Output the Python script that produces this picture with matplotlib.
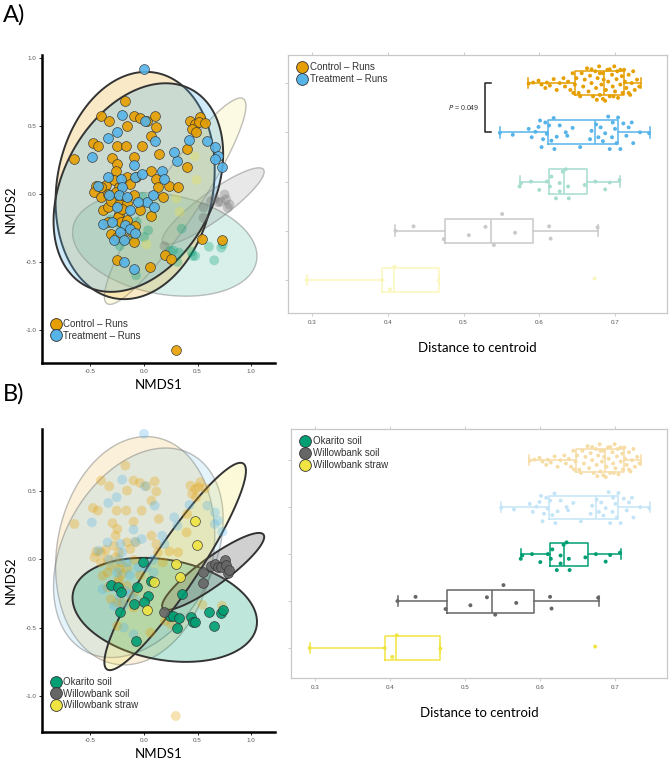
import numpy as np
import matplotlib
matplotlib.use("Agg")
from matplotlib import pyplot as plt
from matplotlib.lines import Line2D
from matplotlib.colors import to_rgba, to_rgb

## group names and colours

groups = ["Control - Runs", "Treatment - Runs", "Okarito soil", "Willowbank soil", "Willowbank straw"]
legend_labels = ["Control \u2013 Runs", "Treatment \u2013 Runs", "Okarito soil", "Willowbank soil", "Willowbank straw"]
colours = ["#E69F00", "#56B4E9", "#009E73", "#666666", "#F0E442"]

## NMDS scores

ctrl_x = [-0.173, -0.400, -0.324, -0.097, -0.036, 0.024, 0.100, 0.115, -0.158, -0.476,
          -0.430, -0.255, -0.164, -0.021, 0.070, 0.139, -0.648, -0.097, -0.294, -0.248,
          -0.264, -0.158, -0.076, 0.070, 0.115, -0.445, -0.355, -0.279, -0.233, -0.461,
          -0.400, -0.339, -0.264, -0.218, -0.091, 0.130, 0.176, 0.236, 0.318, -0.385,
          -0.339, -0.309, -0.233, -0.158, -0.036, -0.233, -0.242, -0.218, -0.158, 0.070,
          -0.339, -0.309, -0.248, -0.203, -0.097, -0.082, -0.112, 0.433, 0.479, 0.524,
          0.509, 0.448, 0.485, 0.570, 0.403, 0.397, 0.545, 0.727, -0.248, 0.061,
          0.197, 0.252, 0.297, -0.400, -0.203, -0.127]
ctrl_y = [0.683, 0.573, 0.532, 0.573, 0.556, 0.532, 0.568, 0.493, 0.500, 0.373,
          0.354, 0.354, 0.354, 0.354, 0.427, 0.293, 0.256, 0.273, 0.263, 0.220,
          0.171, 0.122, 0.122, 0.171, 0.110, 0.054, 0.068, 0.098, 0.049, 0.012,
          -0.024, 0.000, 0.012, -0.024, -0.007, 0.049, -0.024, 0.056, 0.049, -0.122,
          -0.098, -0.049, -0.073, -0.066, -0.117, -0.146, -0.171, -0.207, -0.195, -0.163,
          -0.207, -0.293, -0.317, -0.317, -0.354, -0.237, -0.280, 0.537, 0.512, 0.561,
          0.524, 0.476, 0.451, 0.517, 0.329, 0.195, -0.334, -0.341, -0.488, -0.537,
          -0.451, -0.476, -1.146, 0.049, -0.110, 0.073]

trt_x = [0.000, -0.203, 0.009, -0.255, -0.333, 0.100, -0.485, -0.097, 0.424, 0.591,
         0.661, 0.691, 0.661, 0.730, 0.312, -0.339, -0.218, -0.082, -0.021, 0.170,
         0.191, -0.424, -0.203, -0.324, -0.233, 0.024, 0.085, -0.133, -0.052, 0.091,
         -0.158, -0.248, -0.385, -0.294, -0.173, -0.127, -0.227, -0.082, -0.188, -0.188,
         -0.097, 0.282, -0.279]
trt_y = [0.915, 0.580, 0.532, 0.451, 0.410, 0.390, 0.268, 0.215, 0.395, 0.390,
         0.341, 0.280, 0.256, 0.200, 0.244, 0.122, 0.110, 0.127, 0.146, 0.171,
         0.110, 0.061, 0.049, -0.005, -0.005, -0.061, -0.005, -0.117, -0.061, -0.098,
         -0.024, -0.098, -0.220, -0.207, -0.232, -0.256, -0.280, -0.288, -0.337, -0.500,
         -0.549, 0.305, -0.341]

oka_x = [-0.012, -0.309, -0.242, -0.212, -0.067, 0.070, 0.039, 0.000, -0.097, -0.224,
         -0.073, 0.352, 0.242, 0.273, 0.327, 0.312, 0.442, 0.455, 0.479, 0.606,
         0.721, 0.736, 0.655]
oka_y = [-0.022, -0.188, -0.205, -0.237, -0.205, -0.163, -0.268, -0.317, -0.329, -0.383,
         -0.598, -0.256, -0.415, -0.415, -0.432, -0.500, -0.424, -0.456, -0.456, -0.388,
         -0.395, -0.371, -0.488]

wbs_x = [0.191, 0.555, 0.555, 0.624, 0.661, 0.691, 0.715, 0.752, 0.767, 0.782, 0.797]
wbs_y = [-0.383, -0.098, -0.176, -0.054, -0.034, -0.061, -0.059, -0.005, -0.041, -0.102, -0.078]

wbst_x = [0.473, 0.491, 0.303, 0.333, 0.091, 0.024]
wbst_y = [0.276, 0.102, -0.034, -0.132, -0.171, -0.371]

nmds_x = [ctrl_x, trt_x, oka_x, wbs_x, wbst_x]
nmds_y = [ctrl_y, trt_y, oka_y, wbs_y, wbst_y]

## 95% ellipses (centre + two conjugate semi-axes)

ell_cx = [-0.082, -0.052, 0.194, 0.645, 0.291]
ell_cy = [0.061, 0.046, -0.371, -0.090, -0.054]
ell_ux = [0.200, 0.511, 0.856, 0.470, 0.636]
ell_uy = [0.826, 0.712, -0.121, 0.268, 0.751]
ell_vx = [0.714, 0.603, 0.079, 0.074, 0.175]
ell_vy = [-0.112, -0.280, 0.360, -0.084, -0.096]

## distance to centroid

ctrl_dist = [0.586, 0.592, 0.599, 0.603, 0.608, 0.610, 0.614, 0.619, 0.623, 0.627,
             0.632, 0.634, 0.638, 0.641, 0.644, 0.647, 0.649, 0.652, 0.656, 0.658,
             0.660, 0.663, 0.665, 0.667, 0.669, 0.671, 0.674, 0.675, 0.677, 0.679,
             0.680, 0.682, 0.684, 0.685, 0.687, 0.688, 0.690, 0.691, 0.693, 0.696,
             0.697, 0.699, 0.700, 0.702, 0.703, 0.704, 0.707, 0.709, 0.710, 0.712,
             0.713, 0.715, 0.718, 0.720, 0.722, 0.724, 0.726, 0.729, 0.732, 0.676,
             0.684, 0.669, 0.654, 0.645, 0.693, 0.707, 0.718, 0.680, 0.698]
ctrl_jit = [-0.01, 0.01, 0.05, -0.03, -0.10, 0.01, -0.05, 0.08, -0.14, 0.00,
            0.10, -0.07, 0.03, -0.14, 0.20, -0.03, 0.10, -0.20, 0.20, -0.07,
            0.07, 0.30, -0.17, 0.15, 0.00, -0.27, 0.24, -0.10, 0.10, 0.34,
            -0.24, -0.03, 0.20, 0.07, -0.36, -0.14, 0.27, 0.03, -0.27, 0.17,
            -0.07, 0.34, -0.17, 0.08, 0.24, -0.30, -0.03, 0.14, -0.20, 0.27,
            0.03, -0.10, 0.17, -0.24, 0.00, 0.24, -0.14, 0.07, -0.07, -0.34,
            -0.32, 0.28, -0.27, -0.20, 0.28, 0.27, -0.20, 0.20, -0.27]

trt_dist = [0.548, 0.565, 0.586, 0.590, 0.595, 0.599, 0.601, 0.603, 0.605, 0.608,
            0.610, 0.613, 0.616, 0.619, 0.620, 0.623, 0.627, 0.635, 0.637, 0.644,
            0.654, 0.667, 0.669, 0.675, 0.678, 0.681, 0.684, 0.687, 0.691, 0.693,
            0.696, 0.697, 0.700, 0.702, 0.704, 0.707, 0.711, 0.715, 0.718, 0.722,
            0.724, 0.733, 0.745]
trt_jit = [-0.01, -0.05, 0.07, -0.10, 0.01, 0.11, 0.24, -0.30, -0.14, 0.20,
           -0.03, 0.14, -0.17, 0.29, -0.34, -0.09, 0.14, 0.00, -0.07, 0.09,
           -0.30, -0.14, 0.03, 0.16, -0.10, 0.10, -0.18, -0.02, 0.32, -0.34,
           -0.10, 0.20, 0.07, -0.22, 0.30, -0.34, 0.18, -0.07, 0.10, 0.20,
           -0.22, 0.00, -0.02]

oka_dist = [0.574, 0.576, 0.589, 0.600, 0.610, 0.614, 0.616, 0.622, 0.627, 0.627,
            0.631, 0.635, 0.638, 0.639, 0.660, 0.674, 0.687, 0.693, 0.706]
oka_jit = [-0.10, -0.03, 0.00, -0.17, 0.00, -0.10, 0.10, -0.34, -0.03, -0.20,
           0.20, 0.25, -0.10, -0.34, -0.07, 0.00, -0.16, -0.02, 0.03]

wbs_dist = [0.410, 0.434, 0.474, 0.507, 0.529, 0.540, 0.551, 0.568, 0.613, 0.615, 0.677]
wbs_jit = [0.00, 0.09, -0.17, -0.09, 0.08, -0.29, 0.34, -0.04, 0.09, -0.16, 0.07]

wbst_dist = [0.293, 0.393, 0.409, 0.403, 0.467, 0.673]
wbst_jit = [0.00, 0.00, 0.27, -0.19, -0.01, 0.03]

dists = [ctrl_dist, trt_dist, oka_dist, wbs_dist, wbst_dist]
jits = [ctrl_jit, trt_jit, oka_jit, wbs_jit, wbst_jit]

# box summaries: whisker low, q1, median, q3, whisker high
box_lo = [0.585, 0.548, 0.574, 0.410, 0.293]
box_q1 = [0.647, 0.612, 0.613, 0.476, 0.393]
box_med = [0.686, 0.674, 0.632, 0.536, 0.408]
box_q3 = [0.712, 0.704, 0.663, 0.592, 0.467]
box_hi = [0.734, 0.746, 0.707, 0.678, 0.467]

box_pos = [4, 3, 2, 1, 0]
p_text = "= 0.049"

plt.rcParams['font.family'] = ['Liberation Sans', 'DejaVu Sans']


def faded(c, a):
    r, g, b = to_rgb(c)
    return (1 - a + a * r, 1 - a + a * g, 1 - a + a * b)


def draw_ellipse(ax, i, fill_alpha, edge, lw):
    t = np.linspace(0, 2 * np.pi, 300)
    ex = ell_cx[i] + ell_ux[i] * np.cos(t) + ell_vx[i] * np.sin(t)
    ey = ell_cy[i] + ell_uy[i] * np.cos(t) + ell_vy[i] * np.sin(t)
    ax.fill(ex, ey, facecolor=to_rgba(colours[i], fill_alpha), edgecolor=edge, linewidth=lw)


def nmds_panel(ax, hi, ylim, yticks):
    lo = [i for i in range(5) if i not in hi]
    for i in lo:
        draw_ellipse(ax, i, 0.15, (0.45, 0.45, 0.45, 0.45), 1.0)
    for i in hi:
        alpha = {0: 0.22, 1: 0.28, 2: 0.25, 3: 0.3, 4: 0.2}[i]
        draw_ellipse(ax, i, alpha, "#333333", 1.4)
    for i in lo:
        ax.scatter(nmds_x[i], nmds_y[i], s=50, color=colours[i], alpha=0.3, edgecolor='none', zorder=3)
    for i in hi:
        ax.scatter(nmds_x[i], nmds_y[i], s=50, color=colours[i], alpha=0.9,
                   edgecolor="#333333", linewidth=0.5, zorder=4)
    ax.set_xlim(-0.95, 1.22)
    ax.set_ylim(*ylim)
    ax.set_xticks([-0.5, 0.0, 0.5, 1.0])
    ax.set_xticklabels(["-0.5", "0.0", "0.5", "1.0"])
    ax.set_yticks(yticks)
    ax.set_yticklabels(["%.1f" % v for v in yticks])
    for s in ["top", "right"]:
        ax.spines[s].set_visible(False)
    for s in ["left", "bottom"]:
        ax.spines[s].set_linewidth(1.8)
    ax.tick_params(length=2, width=0.6, labelsize=4.5, labelcolor="#555555", pad=2)
    ax.set_xlabel("NMDS1", fontsize=9.5, family="Lato", labelpad=4)
    ax.set_ylabel("NMDS2", fontsize=9.5, family="Lato", labelpad=6)
    handles = [Line2D([], [], marker='o', linestyle='none', markersize=8.5,
                      markerfacecolor=colours[i], markeredgecolor="#333333", markeredgewidth=0.6)
               for i in hi]
    ax.legend(handles, [legend_labels[i] for i in hi], loc="lower left", bbox_to_anchor=(0.0, 0.05),
              frameon=False, fontsize=7, handletextpad=0.1, labelspacing=0.15,
              borderaxespad=0.3, handlelength=1.4, labelcolor="#333333")


def box_panel(ax, hi, ylim, pval):
    for i in range(5):
        c = colours[i] if i in hi else faded(colours[i], 0.35)
        st = dict(whislo=box_lo[i], q1=box_q1[i], med=box_med[i], q3=box_q3[i],
                  whishi=box_hi[i], fliers=[])
        lp = dict(color=c, linewidth=1.1)
        ax.bxp([st], positions=[box_pos[i]], widths=0.49, orientation='horizontal',
               showfliers=False, boxprops=lp, medianprops=lp, whiskerprops=lp,
               capprops=lp, capwidths=0.22, manage_ticks=False)
        ax.scatter(dists[i], np.array(jits[i]) + box_pos[i], s=8, color=c,
                   edgecolor='none', zorder=3)
    ax.set_xlim(0.2683, 0.7686)
    ax.set_ylim(*ylim)
    ax.set_xticks([0.3, 0.4, 0.5, 0.6, 0.7])
    ax.set_xticklabels(["0.3", "0.4", "0.5", "0.6", "0.7"])
    ax.set_yticks(box_pos)
    ax.set_yticklabels([])
    ax.tick_params(axis='x', length=2, width=0.5, labelsize=4.5, labelcolor="#555555",
                   color="#bbbbbb", pad=3, top=True, direction='out')
    ax.tick_params(axis='y', length=2, width=0.5, color="#bbbbbb")
    for s in ax.spines.values():
        s.set_color("#c8c8c8")
        s.set_linewidth(0.9)
    ax.set_xlabel("Distance to centroid", fontsize=9.5, family="Lato", labelpad=12)
    if pval:
        bx = 0.529
        ax.plot([bx + 0.007, bx, bx, bx + 0.007], [box_pos[0], box_pos[0], box_pos[1], box_pos[1]],
                color="#222222", lw=1.1)
        ax.text(bx - 0.008, (box_pos[0] + box_pos[1]) / 2, r"$\it{P}$ " + p_text,
                fontsize=5, ha="right", va="center", color="#333333")
    handles = [Line2D([], [], marker='o', linestyle='none', markersize=8.5,
                      markerfacecolor=colours[i], markeredgecolor="#333333", markeredgewidth=0.6)
               for i in hi]
    ax.legend(handles, [legend_labels[i] for i in hi], loc="upper left",
              frameon=False, fontsize=7, handletextpad=0.1, labelspacing=0.2,
              borderaxespad=0.35, handlelength=1.4, labelcolor="#333333")


fig = plt.figure(figsize=(6.69, 7.61), dpi=100)

axA1 = fig.add_axes([0.0628, 0.523, 0.348, 0.405])
axA2 = fig.add_axes([0.4305, 0.5887, 0.5665, 0.339])
axB1 = fig.add_axes([0.0628, 0.0381, 0.348, 0.398])
axB2 = fig.add_axes([0.435, 0.109, 0.562, 0.327])

nmds_panel(axA1, [0, 1], (-1.241, 1.02), [-1.0, -0.5, 0.0, 0.5, 1.0])
nmds_panel(axB1, [2, 3, 4], (-1.263, 0.949), [-1.0, -0.5, 0.0, 0.5])
box_panel(axA2, [0, 1], (-0.67, 4.57), True)
box_panel(axB2, [2, 3, 4], (-0.64, 4.66), False)

fig.text(0.004, 0.995, "A)", fontsize=17, family="Lato", va="top", ha="left")
fig.text(0.004, 0.497, "B)", fontsize=17, family="Lato", va="top", ha="left")

fig.savefig("out.png", dpi=100)
